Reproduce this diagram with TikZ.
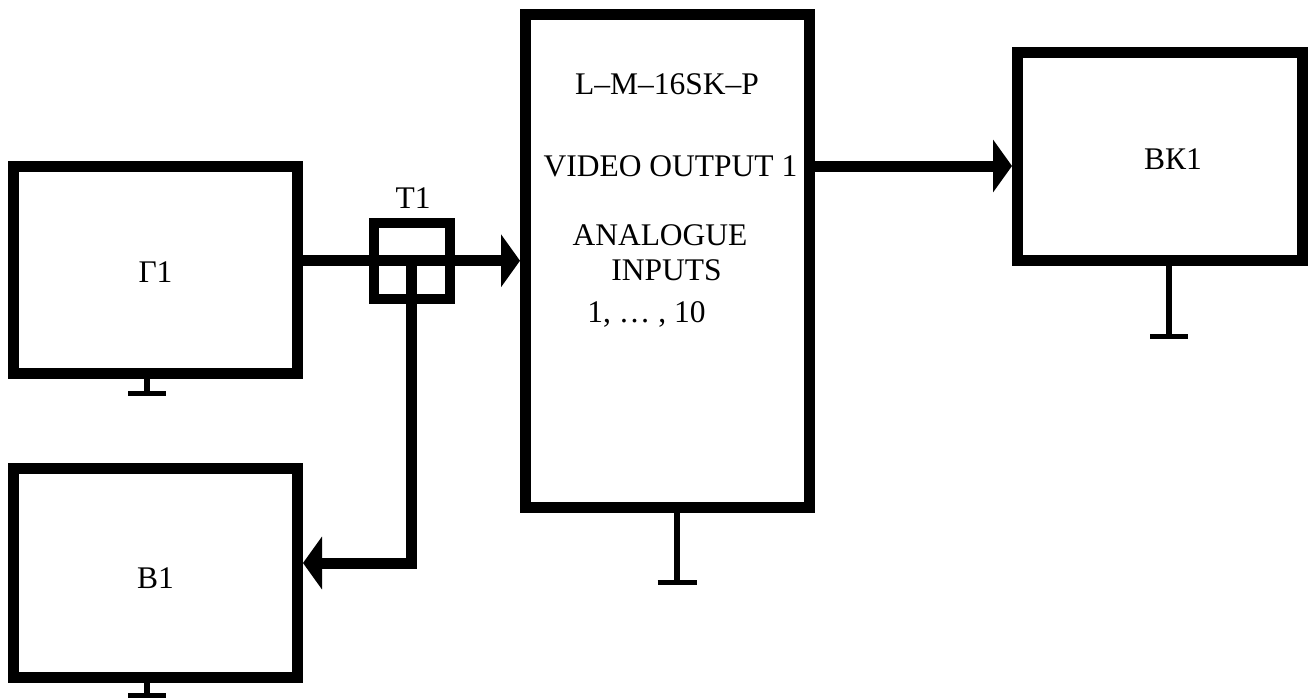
\documentclass[tikz,border=0pt]{standalone}
\usepackage{fontspec}
\setmainfont{Liberation Serif}
\usetikzlibrary{arrows.meta,calc}
\begin{document}
\begin{tikzpicture}[x=1pt,y=-1pt,
  blockbox/.style={draw=black,line width=11pt,inner sep=0pt,minimum width=284pt},
  tbox/.style={draw=black,line width=10pt,inner sep=0pt,minimum width=76pt,minimum height=75.5pt},
  lbl/.style={anchor=base,inner sep=0pt,font=\fontsize{31.5}{36}\selectfont},
  conn/.style={line width=11pt,line join=miter},
  connarrow/.style={line width=11pt,line join=miter,-{Triangle[length=19pt,width=52pt]}},
  stem/.style={line width=6.5pt},
  gbar/.style={line width=5pt}]
\useasboundingbox (0,0) rectangle (1314,698);
% blocks
\node[blockbox,minimum height=207pt] (G1) at (155.5,270) {};
\node[blockbox,minimum height=208.5pt] (B1) at (155.5,573) {};
\node[blockbox,minimum height=492.5pt] (M) at (667.5,260.75) {};
\node[blockbox,minimum width=284.5pt,minimum height=208pt] (VK) at (1159.75,156.5) {};
% coordinates
\coordinate (tc) at (411.5,260.75);
\coordinate (j) at (411.5,563);
\coordinate (vo) at (0,166);
% connectors
\draw[connarrow] (G1.east |- tc) -- (M.west |- tc);
\draw[connarrow] (tc) |- (B1.east |- j);
\draw[connarrow] (M.east |- vo) -- (VK.west |- vo);
% T1 box
\node[tbox] (T1) at (tc) {};
% labels
\node[lbl] (lG1) at (155.5,282) {Г1};
\node[lbl] (lB1) at (155.5,588.5) {В1};
\node[lbl] (lVK) at (1173,169) {ВК1};
\node[lbl] (lT1) at (413,208) {Т1};
\node[lbl] (lM1) at (667,95) {L–M–16SK–P};
\node[lbl] (lM2) at (670.5,176.7) {VIDEO OUTPUT 1};
\node[lbl] (lM3) at (660,245) {ANALOGUE};
\node[lbl] (lM4) at (666.5,280) {INPUTS};
\node[lbl] (lM5) at (646.5,322) {1, … , 10};
% grounds
\coordinate (g1) at (147,393.5);
\coordinate (g2) at (147,695.5);
\coordinate (g3) at (677,582.5);
\coordinate (g4) at (1169,336.5);
\draw[stem] (G1.south -| g1) -- (g1);
\draw[gbar] ($(g1)+(-19,0)$) -- ($(g1)+(19,0)$);
\draw[stem] (B1.south -| g2) -- (g2);
\draw[gbar] ($(g2)+(-19,0)$) -- ($(g2)+(19,0)$);
\draw[stem] (M.south -| g3) -- (g3);
\draw[gbar] ($(g3)+(-19.5,0)$) -- ($(g3)+(19.5,0)$);
\draw[stem] (VK.south -| g4) -- (g4);
\draw[gbar] ($(g4)+(-19,0)$) -- ($(g4)+(19,0)$);
\end{tikzpicture}
\end{document}
